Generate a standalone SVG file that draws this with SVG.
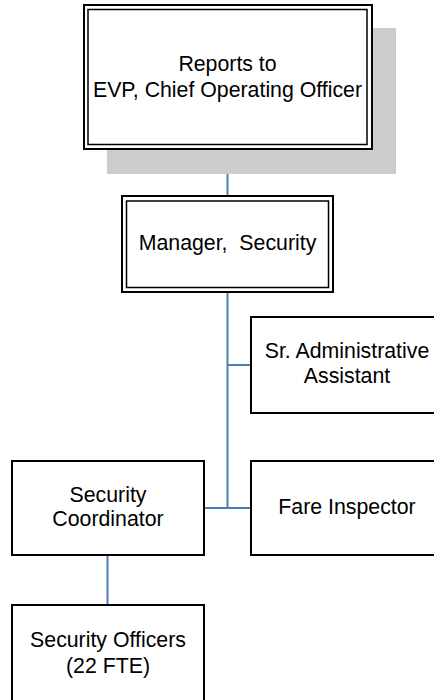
<svg xmlns="http://www.w3.org/2000/svg" width="434" height="700" viewBox="0 0 434 700">
<style>
.box{fill:#ffffff;stroke:#000000;stroke-width:2}
.inner{fill:none;stroke:#000000;stroke-width:1.5}
.lbl{font-family:"Liberation Sans",Arial,sans-serif;font-size:21.3px;fill:#000000;text-anchor:middle}
.conn{stroke:#4a7ebb;stroke-width:2;fill:none}
</style>
<rect width="434" height="700" fill="#ffffff"/>
<g id="connectors">
<line class="conn" x1="227.5" y1="149" x2="227.5" y2="197"/>
<line class="conn" x1="227.5" y1="292" x2="227.5" y2="508"/>
<line class="conn" x1="227.5" y1="365" x2="251" y2="365"/>
<line class="conn" x1="204" y1="508" x2="251" y2="508"/>
<line class="conn" x1="107.5" y1="555" x2="107.5" y2="605"/>
</g>
<g id="evp">
<rect x="107" y="28" width="289" height="146" fill="#cccccc"/>
<rect class="box" x="84" y="5" width="288" height="144"/>
<rect class="inner" x="88" y="9.5" width="279" height="135"/>
<text class="lbl" x="227.5" y="71">Reports to</text>
<text class="lbl" x="227.5" y="97">EVP, Chief Operating Officer</text>
</g>
<g id="manager">
<rect class="box" x="122" y="196" width="211" height="96"/>
<rect class="inner" x="126.5" y="201" width="202" height="86.5"/>
<text class="lbl" x="227.5" y="250" xml:space="preserve">Manager,  Security</text>
</g>
<g id="sradmin">
<rect class="box" x="251" y="317" width="192" height="96"/>
<text class="lbl" x="347" y="358">Sr. Administrative</text>
<text class="lbl" x="347" y="383">Assistant</text>
</g>
<g id="coordinator">
<rect class="box" x="12" y="461" width="192" height="94"/>
<text class="lbl" x="108" y="502">Security</text>
<text class="lbl" x="108" y="526">Coordinator</text>
</g>
<g id="fare">
<rect class="box" x="251" y="461" width="192" height="94"/>
<text class="lbl" x="347" y="514">Fare Inspector</text>
</g>
<g id="officers">
<rect class="box" x="12" y="605" width="192" height="100"/>
<text class="lbl" x="108" y="647">Security Officers</text>
<text class="lbl" x="108" y="673">(22 FTE)</text>
</g>
</svg>
